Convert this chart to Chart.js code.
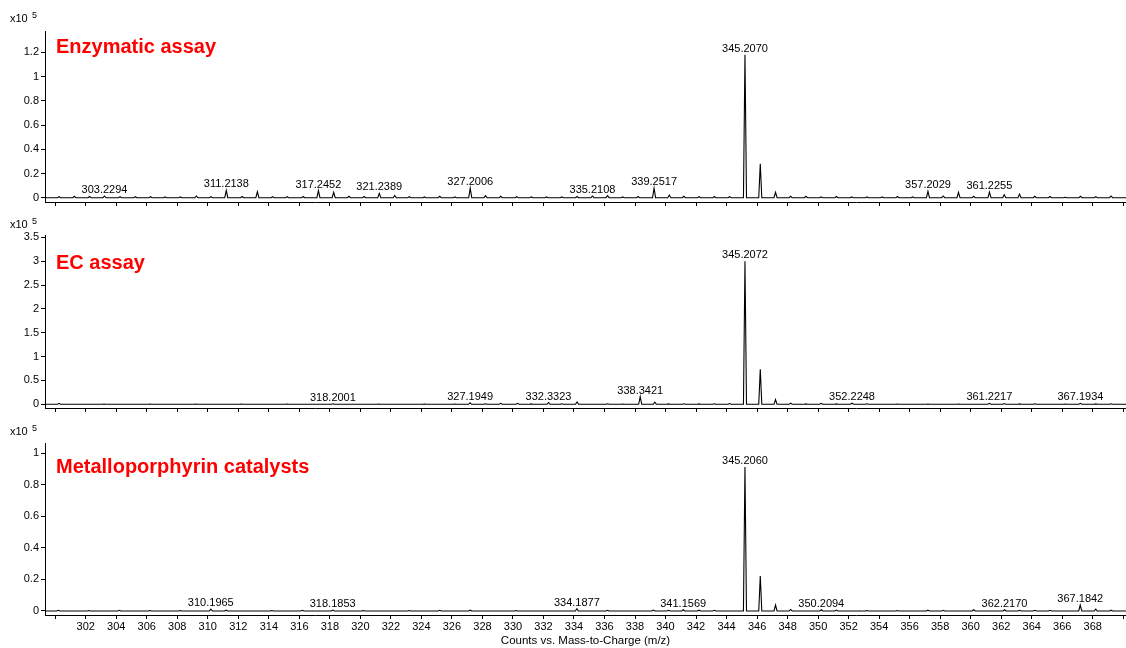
<!DOCTYPE html>
<html>
<head>
<meta charset="utf-8">
<script src="https://cdn.jsdelivr.net/npm/chart.js@4.4.1/dist/chart.umd.min.js"></script>
<style>
  body { margin: 0; background: #fff; }
  .panel { position: absolute; left: 0; width: 1126px; }
</style>
</head>
<body>
<div class="panel" style="top:0;height:210px"><canvas id="c1"></canvas></div>
<div class="panel" style="top:210px;height:206px"><canvas id="c2"></canvas></div>
<div class="panel" style="top:416px;height:232px"><canvas id="c3"></canvas></div>
<script>
// x axis: ticks every 2 m/z units, labels from 302 to 368
const xTickValues = [300, 302, 304, 306, 308, 310, 312, 314, 316, 318,
  320, 322, 324, 326, 328, 330, 332, 334, 336, 338,
  340, 342, 344, 346, 348, 350, 352, 354, 356, 358,
  360, 362, 364, 366, 368, 370];
const xTickLabels = ["302", "304", "306", "308", "310", "312", "314", "316", "318", "320",
  "322", "324", "326", "328", "330", "332", "334", "336", "338", "340",
  "342", "344", "346", "348", "350", "352", "354", "356", "358", "360",
  "362", "364", "366", "368"];

// Enzymatic assay (counts x10^5)
const enzMz = [300.25, 301.25, 302.25, 303.23, 304.25, 305.25, 306.25, 307.2, 308.2, 309.25,
  310.2, 311.21, 312.25, 313.25, 314.25, 315.2, 316.25, 317.25, 318.25, 319.25,
  320.25, 321.24, 322.25, 323.2, 324.2, 325.2, 326.2, 327.2, 328.2, 329.2,
  330.25, 331.2, 332.2, 333.2, 334.2, 335.21, 336.2, 337.2, 338.2, 339.25,
  340.25, 341.2, 342.2, 343.2, 344.2, 345.207, 346.21, 347.21, 348.2, 349.2,
  350.2, 351.2, 352.2, 353.2, 354.2, 355.2, 356.2, 357.2, 358.2, 359.2,
  360.2, 361.23, 362.2, 363.2, 364.2, 365.2, 366.2, 367.2, 368.2, 369.2];
const enzInt = [0.008, 0.012, 0.01, 0.014, 0.008, 0.008, 0.008, 0.006, 0.006, 0.014,
  0.008, 0.06, 0.01, 0.05, 0.008, 0.008, 0.01, 0.058, 0.045, 0.012,
  0.01, 0.036, 0.018, 0.008, 0.006, 0.012, 0.006, 0.078, 0.016, 0.012,
  0.008, 0.006, 0.006, 0.006, 0.01, 0.014, 0.016, 0.006, 0.01, 0.078,
  0.022, 0.012, 0.008, 0.01, 0.008, 1.18, 0.28, 0.045, 0.012, 0.012,
  0.006, 0.01, 0.006, 0.006, 0.006, 0.01, 0.006, 0.052, 0.014, 0.044,
  0.012, 0.046, 0.025, 0.03, 0.012, 0.01, 0.004, 0.012, 0.008, 0.014];
const enzLabels = ["303.2294", "311.2138", "317.2452", "321.2389", "327.2006",
  "335.2108", "339.2517", "345.2070", "357.2029", "361.2255"];
const enzYTicks = [0, 0.2, 0.4, 0.6, 0.8, 1, 1.2];

// EC assay
const ecMz = [300.25, 303.2, 306.2, 309.2, 312.2, 315.2, 318.2, 321.2, 324.2, 326.2,
  327.19, 328.2, 329.2, 330.3, 331.2, 332.33, 333.2, 334.2, 336.2, 337.2,
  338.34, 339.3, 340.2, 341.2, 342.2, 343.2, 344.2, 345.207, 346.21, 347.21,
  348.2, 349.2, 350.2, 351.2, 352.22, 353.2, 355.2, 357.2, 359.2, 361.22,
  362.2, 363.2, 364.2, 366.2, 367.19, 368.2, 369.2];
const ecInt = [0.02, 0.006, 0.006, 0.006, 0.006, 0.006, 0.012, 0.006, 0.006, 0.006,
  0.03, 0.01, 0.02, 0.02, 0.008, 0.035, 0.01, 0.05, 0.012, 0.006,
  0.16, 0.045, 0.008, 0.01, 0.008, 0.01, 0.015, 3.0, 0.735, 0.1,
  0.025, 0.008, 0.02, 0.008, 0.025, 0.01, 0.006, 0.006, 0.006, 0.02,
  0.015, 0.008, 0.01, 0.006, 0.02, 0.008, 0.01];
const ecLabels = ["318.2001", "327.1949", "332.3323", "338.3421", "345.2072",
  "352.2248", "361.2217", "367.1934"];
const ecYTicks = [0, 0.5, 1, 1.5, 2, 2.5, 3, 3.5];

// Metalloporphyrin catalysts
const mpMz = [300.2, 302.2, 304.2, 306.2, 308.2, 310.2, 311.2, 314.2, 316.2, 318.19,
  320.2, 323.2, 325.2, 327.2, 330.2, 334.19, 336.2, 339.2, 340.2, 341.16,
  342.2, 343.2, 345.206, 346.21, 347.21, 348.2, 350.21, 351.2, 353.2, 355.2,
  357.2, 358.2, 360.2, 362.22, 363.2, 364.2, 365.2, 367.18, 368.2, 369.2];
const mpInt = [0.004, 0.003, 0.004, 0.003, 0.003, 0.012, 0.005, 0.003, 0.004, 0.006,
  0.003, 0.003, 0.004, 0.005, 0.003, 0.014, 0.004, 0.006, 0.004, 0.008,
  0.005, 0.004, 0.913, 0.222, 0.038, 0.01, 0.008, 0.006, 0.003, 0.003,
  0.005, 0.004, 0.008, 0.008, 0.004, 0.004, 0.004, 0.038, 0.012, 0.005];
const mpLabels = ["310.1965", "318.1853", "334.1877", "341.1569", "345.2060",
  "350.2094", "362.2170", "367.1842"];
const mpYTicks = [0, 0.2, 0.4, 0.6, 0.8, 1];

const FONT = "'Liberation Sans', Arial, sans-serif";
const HALF_W = 0.1; // peak half width in m/z
Chart.defaults.font.family = FONT;
Chart.defaults.color = "#000";

// each centroid is drawn as a narrow peak on the baseline
function trace(mz, inten) {
  const pts = [{ x: 299, y: 0 }];
  mz.forEach((m, i) => {
    pts.push({ x: m - HALF_W, y: 0 }, { x: m, y: inten[i] }, { x: m + HALF_W, y: 0 });
  });
  pts.push({ x: 371, y: 0 });
  return pts;
}

function heightAt(mz, inten, m) {
  let best = 0, d = 1e9;
  mz.forEach((v, i) => {
    if (Math.abs(v - m) < d) { d = Math.abs(v - m); best = inten[i]; }
  });
  return d < 0.3 ? best : 0;
}

function makePanel(id, p) {
  const textPlugin = {
    id: "panelText",
    afterDraw(chart) {
      const ctx = chart.ctx;
      const xs = chart.scales.x, ys = chart.scales.y;
      ctx.save();
      // exponent label
      ctx.fillStyle = "#000";
      ctx.textAlign = "left";
      ctx.textBaseline = "alphabetic";
      ctx.font = "11px " + FONT;
      ctx.fillText("x10", 10, p.expY);
      ctx.font = "9px " + FONT;
      ctx.fillText("5", 32, p.expY - 4);
      // peak labels
      ctx.font = "11px " + FONT;
      ctx.textAlign = "center";
      p.labels.forEach(l => {
        const m = parseFloat(l);
        const h = heightAt(p.mz, p.inten, m);
        ctx.fillText(l, xs.getPixelForValue(m), ys.getPixelForValue(h) - 3);
      });
      // sample title
      ctx.fillStyle = "#ff0000";
      ctx.textAlign = "left";
      ctx.font = "bold 20px " + FONT;
      ctx.fillText(p.title, 56, p.titleY);
      ctx.restore();
    }
  };

  new Chart(document.getElementById(id), {
    type: "line",
    data: {
      datasets: [{
        data: trace(p.mz, p.inten),
        borderColor: "#000",
        borderWidth: 1.1,
        pointRadius: 0,
        tension: 0,
        fill: false
      }]
    },
    options: {
      responsive: true,
      maintainAspectRatio: false,
      animation: false,
      layout: { padding: { top: p.padTop, left: 0, right: 0, bottom: 0 } },
      plugins: { legend: { display: false }, tooltip: { enabled: false } },
      scales: {
        x: {
          type: "linear",
          min: 299.33,
          max: 370.18,
          border: { color: "#000", width: 1 },
          grid: { drawOnChartArea: false, tickLength: 4, color: "#000" },
          ticks: {
            display: p.showX,
            autoSkip: false,
            maxRotation: 0,
            padding: 1,
            font: { size: 11 },
            callback: v => xTickLabels.includes(String(v)) ? String(v) : ""
          },
          title: {
            display: p.showX,
            text: "Counts vs. Mass-to-Charge (m/z)",
            font: { size: 11.5 },
            padding: 0
          },
          afterBuildTicks: s => { s.ticks = xTickValues.map(v => ({ value: v })); },
          afterFit: s => { s.height = p.xHeight; s.paddingLeft = 0; s.paddingRight = 0; }
        },
        y: {
          type: "linear",
          min: p.yMin,
          max: p.yMax,
          border: { color: "#000", width: 1 },
          grid: { drawOnChartArea: false, tickLength: 4, color: "#000" },
          ticks: { padding: 2, font: { size: 11 }, callback: v => String(v) },
          afterBuildTicks: s => { s.ticks = p.yTicks.map(v => ({ value: v })); },
          afterFit: s => { s.width = 45; s.paddingTop = 0; s.paddingBottom = 0; }
        }
      }
    },
    plugins: [textPlugin]
  });
}

makePanel("c1", {
  mz: enzMz, inten: enzInt, labels: enzLabels, yTicks: enzYTicks,
  yMin: -0.0355, yMax: 1.376, padTop: 31, xHeight: 8, showX: false,
  title: "Enzymatic assay", titleY: 53, expY: 22
});
makePanel("c2", {
  mz: ecMz, inten: ecInt, labels: ecLabels, yTicks: ecYTicks,
  yMin: -0.0775, yMax: 3.548, padTop: 25, xHeight: 8, showX: false,
  title: "EC assay", titleY: 59, expY: 18
});
makePanel("c3", {
  mz: mpMz, inten: mpInt, labels: mpLabels, yTicks: mpYTicks,
  yMin: -0.0254, yMax: 1.0653, padTop: 27, xHeight: 33, showX: true,
  title: "Metalloporphyrin catalysts", titleY: 57, expY: 19
});
</script>
</body>
</html>
